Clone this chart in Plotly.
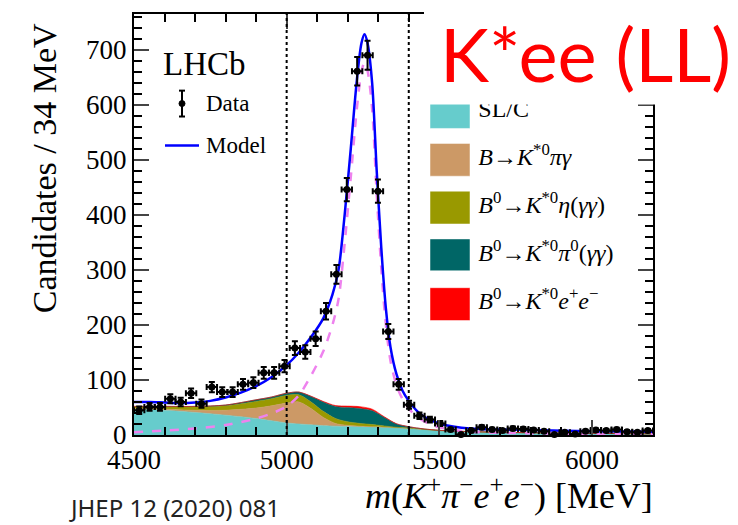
import plotly.graph_objects as go
import numpy as np

# ---------------- data ----------------
bin_centers = [4517, 4551, 4585, 4619, 4653, 4687, 4721, 4755, 4789, 4823,
               4857, 4891, 4925, 4959, 4993, 5027, 5061, 5095, 5129, 5163,
               5197, 5231, 5265, 5299, 5333, 5367, 5401, 5435, 5469, 5503,
               5537, 5571, 5605, 5639, 5673, 5707, 5741, 5775, 5809, 5843,
               5877, 5911, 5945, 5979, 6013, 6047, 6081, 6115, 6149, 6183]
counts = [45, 51, 51, 66, 60, 76, 57, 87, 78, 78,
          92, 95, 113, 113, 125, 158, 151, 175, 225, 292,
          446, 661, 690, 443, 188, 92, 55, 35, 28, 21,
          10, 1, 8, 14, 10, 8, 12, 11, 9, 7,
          1, 5, 2, 7, 9, 8, 10, 6, 5, 8]
bin_half_width = 17

# model total (blue)
model_m = [4500, 4550, 4600, 4650, 4700, 4750, 4800, 4850, 4900, 4950, 5000, 5040,
           5080, 5120, 5150, 5170, 5190, 5210, 5230, 5245, 5255, 5265, 5280, 5295,
           5310, 5325, 5340, 5360, 5380, 5400, 5430, 5460, 5500, 5550, 5600, 5700,
           5800, 6000, 6200]
model_y = [60, 60, 59, 58, 59, 62, 68, 77, 89, 105, 127, 150,
           178, 212, 255, 300, 400, 520, 645, 712, 728, 712, 640, 480,
           340, 230, 160, 110, 80, 62, 42, 30, 21, 15, 12, 10,
           9, 7, 6]

# signal (pink dashed)
sig_m = [4500, 4600, 4700, 4800, 4900, 4950, 5000, 5040, 5080, 5120, 5150, 5170,
         5190, 5210, 5230, 5245, 5255, 5265, 5280, 5295, 5310, 5325, 5340, 5360,
         5380, 5400, 5430, 5460, 5500, 5550, 5600, 5700, 5800, 6000, 6200]
sig_y = [5, 8, 12, 18, 30, 39, 52, 72, 108, 152, 200, 247,
         348, 468, 593, 660, 677, 662, 593, 438, 303, 200, 135, 90,
         65, 48, 32, 22, 14, 9, 6, 4, 3, 2, 1.5]

# background components (individual contributions, stacked in the plot)
bkg_m = [4500, 4600, 4700, 4800, 4900, 4950, 5000, 5040, 5080, 5120, 5160, 5200,
         5240, 5280, 5320, 5360, 5400, 5450, 5500, 5600, 5800, 6000, 6200]
slc = [47, 45, 41, 36, 30, 26, 22, 20, 18.5, 17, 16, 15.5,
       15, 14.5, 14, 13, 12, 10, 8, 6, 4, 3, 2]
kpigamma = [1.5, 2, 4, 9, 19, 27, 36, 40, 29.5, 15, 5, 2,
            1, 0.5, 0.3, 0.2, 0.2, 0.1, 0.1, 0, 0, 0, 0]
keta = [2.5, 4, 6, 8, 12, 13, 14, 13, 12, 11, 9, 6.5,
        5, 4, 2.2, 0.8, 0.4, 0.2, 0.1, 0, 0, 0, 0]
kpi0 = [1, 1, 1, 1.5, 3, 3, 4, 5, 10, 17, 22, 26,
        27, 25, 15.5, 6, 2.4, 0.7, 0.3, 0.2, 0.1, 0, 0]
kee = [0, 0, 0, 0, 0, 0, 0, 0, 0.5, 1, 1.5, 2.5,
       3.5, 3, 1, 0.5, 0.2, 0.1, 0.1, 0, 0, 0, 0]

bkg_names = ["SL/C",
             "<i>B</i>→<i>K</i><sup>*0</sup><i>πγ</i>",
             "<i>B</i><sup>0</sup>→<i>K</i><sup>*0</sup><i>η</i>(<i>γγ</i>)",
             "<i>B</i><sup>0</sup>→<i>K</i><sup>*0</sup><i>π</i><sup>0</sup>(<i>γγ</i>)",
             "<i>B</i><sup>0</sup>→<i>K</i><sup>*0</sup><i>e</i><sup>+</sup><i>e</i><sup>−</sup>"]
bkg_colors = ["#66CCCC", "#CC9966", "#999900", "#006666", "#FF0000"]
bkg_values = [slc, kpigamma, keta, kpi0, kee]

x_ticks = [4500, 5000, 5500, 6000]
y_ticks = [0, 100, 200, 300, 400, 500, 600, 700]
x_range = [4500, 6200]
y_range = [0, 765]

SERIF = "Liberation Serif"

fig = go.Figure()

for name, col, vals in zip(bkg_names, bkg_colors, bkg_values):
    fig.add_trace(go.Scatter(x=bkg_m, y=vals, stackgroup="bkg", mode="lines",
                             line=dict(width=0.6, color=col, shape="spline", smoothing=0.8),
                             fillcolor=col, name=name, showlegend=False, hoverinfo="skip"))

fig.add_trace(go.Scatter(x=sig_m, y=sig_y, mode="lines",
                         line=dict(color="#EE82EE", width=2.5, dash="dash", shape="spline", smoothing=0.8),
                         showlegend=False, hoverinfo="skip"))
fig.add_trace(go.Scatter(x=model_m, y=model_y, mode="lines",
                         line=dict(color="#0000FF", width=2.5, shape="spline", smoothing=0.8),
                         showlegend=False, hoverinfo="skip"))

yerr = [float(np.sqrt(max(c, 1))) for c in counts]
fig.add_trace(go.Scatter(x=bin_centers, y=counts, mode="markers",
                         marker=dict(color="black", size=7),
                         error_y=dict(type="data", array=yerr, color="black", thickness=2, width=3),
                         error_x=dict(type="constant", value=bin_half_width, color="black", thickness=2, width=3),
                         showlegend=False, cliponaxis=False, hoverinfo="skip"))

# legend labels of the right-hand legend as text (so the cover can hide the top one)
leg_label_m = [5628] * 5
leg_label_y = [588, 501, 414, 327, 239]
fig.add_trace(go.Scatter(x=leg_label_m, y=leg_label_y, mode="text", text=bkg_names,
                         textposition="middle right",
                         textfont=dict(family=SERIF, size=24, color="black"),
                         showlegend=False, cliponaxis=False, hoverinfo="skip"))

shapes = []
# dashed vertical lines
for xv in [5000, 5400]:
    shapes.append(dict(type="line", xref="x", yref="paper", x0=xv, x1=xv, y0=0, y1=1,
                       line=dict(color="black", width=2, dash="dot"), layer="above"))

def px2paper_x(px):
    return (px - 134) / 519.0

def px2paper_y(py):
    return (435 - py) / 423.0

box_tops = [94, 142, 190, 238, 287]
box_bots = [127, 175, 223, 270, 320]
for col, t, b in zip(bkg_colors, box_tops, box_bots):
    shapes.append(dict(type="rect", xref="paper", yref="paper",
                       x0=px2paper_x(430), x1=px2paper_x(470), y0=px2paper_y(b), y1=px2paper_y(t),
                       fillcolor=col, line=dict(width=0.5, color="white"), layer="above"))

# left legend: Data marker + Model line
shapes.append(dict(type="line", xref="paper", yref="paper",
                   x0=px2paper_x(182), x1=px2paper_x(182), y0=px2paper_y(115), y1=px2paper_y(89),
                   line=dict(color="black", width=2), layer="above"))
for yy in [89, 115]:
    shapes.append(dict(type="line", xref="paper", yref="paper",
                       x0=px2paper_x(179), x1=px2paper_x(185), y0=px2paper_y(yy), y1=px2paper_y(yy),
                       line=dict(color="black", width=2), layer="above"))
shapes.append(dict(type="circle", xref="paper", yref="paper",
                   x0=px2paper_x(179), x1=px2paper_x(185), y0=px2paper_y(105), y1=px2paper_y(99),
                   fillcolor="black", line=dict(color="black", width=1), layer="above"))
shapes.append(dict(type="line", xref="paper", yref="paper",
                   x0=px2paper_x(165), x1=px2paper_x(199), y0=px2paper_y(144), y1=px2paper_y(144),
                   line=dict(color="#0000FF", width=2.5), layer="above"))

# white cover box under the red title
shapes.append(dict(type="rect", xref="paper", yref="paper",
                   x0=px2paper_x(424), x1=px2paper_x(740), y0=px2paper_y(103), y1=px2paper_y(-2),
                   fillcolor="white", line=dict(width=0), layer="above"))

xtitle = ("<i>m</i>(<i>K</i><sup>+</sup><i>π</i><sup>−</sup>"
          "<i>e</i><sup>+</sup><i>e</i><sup>−</sup>) [MeV]")

annotations = [
    dict(text="LHCb", xref="paper", yref="paper", x=px2paper_x(161), y=px2paper_y(62),
         xanchor="left", yanchor="middle", showarrow=False,
         font=dict(family=SERIF, size=33, color="black")),
    dict(text="Data", xref="paper", yref="paper", x=px2paper_x(204), y=px2paper_y(102),
         xanchor="left", yanchor="middle", showarrow=False,
         font=dict(family=SERIF, size=23, color="black")),
    dict(text="Model", xref="paper", yref="paper", x=px2paper_x(204), y=px2paper_y(144),
         xanchor="left", yanchor="middle", showarrow=False,
         font=dict(family=SERIF, size=23, color="black")),
    dict(text=xtitle,
         xref="paper", yref="paper", x=px2paper_x(655), y=px2paper_y(494),
         xanchor="right", yanchor="middle", showarrow=False,
         font=dict(family=SERIF, size=36, color="black")),
    dict(text="Candidates / 34 MeV", xref="paper", yref="paper", x=px2paper_x(44), y=px2paper_y(167),
         xanchor="center", yanchor="middle", textangle=-90, showarrow=False,
         font=dict(family=SERIF, size=34, color="black")),
    dict(text="JHEP 12 (2020) 081", xref="paper", yref="paper", x=px2paper_x(67), y=px2paper_y(508),
         xanchor="left", yanchor="middle", showarrow=False,
         font=dict(family="Noto Sans", size=24, color="#222222")),
    dict(text="K*ee (LL)", xref="paper", yref="paper", x=px2paper_x(438), y=px2paper_y(52),
         xanchor="left", yanchor="middle", showarrow=False,
         font=dict(family="Lato", size=74, color="#FF0000")),
]

fig.update_layout(
    width=738, height=525,
    margin=dict(l=134, r=85, t=12, b=90),
    plot_bgcolor="white", paper_bgcolor="white",
    font=dict(family=SERIF, color="black"),
    shapes=shapes, annotations=annotations,
    showlegend=False, hovermode=False,
    xaxis=dict(range=x_range, tickvals=x_ticks, ticks="inside", ticklen=15, tickwidth=2,
               showline=True, linewidth=2, linecolor="black", mirror="ticks",
               showgrid=False, zeroline=False,
               tickfont=dict(family=SERIF, size=27, color="black"),
               minor=dict(dtick=100, tick0=4500, ticks="inside", ticklen=8, tickwidth=2, tickcolor="black", showgrid=False)),
    yaxis=dict(range=y_range, tickvals=y_ticks, ticks="inside", ticklen=15, tickwidth=2,
               showline=True, linewidth=2, linecolor="black", mirror="ticks",
               showgrid=False, zeroline=False,
               tickfont=dict(family=SERIF, size=27, color="black"),
               minor=dict(dtick=20, tick0=0, ticks="inside", ticklen=8, tickwidth=2, tickcolor="black", showgrid=False)),
)

fig.write_html("out.html", config={"displayModeBar": False},
               post_script="document.body.style.margin='0px';")
